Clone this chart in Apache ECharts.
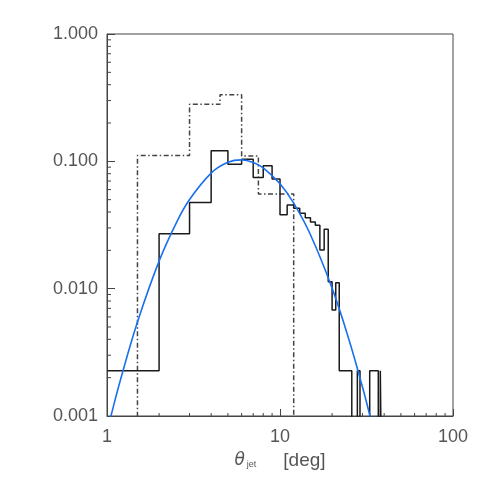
<!DOCTYPE html>
<html>
<head>
<meta charset="utf-8">
<script src="https://cdn.jsdelivr.net/npm/echarts@6/dist/echarts.min.js"></script>
<style>
  html, body { margin: 0; padding: 0; background: #fff; }
  #chart { width: 485px; height: 485px; }
</style>
</head>
<body>
<div id="chart"></div>
<script>
// solid histogram: 1 deg bins, left edges 1..39
const solidEdges = [1, 2, 3, 4, 5, 6, 7, 8, 9, 10, 11, 12, 13, 14, 15, 16, 17, 18, 19, 20,
  21, 22, 23, 24, 25, 26, 27, 28, 29, 30, 31, 32, 33, 34, 35, 36, 37, 38, 39, 40]
const solidValues = [0.00227, 0.027, 0.0475, 0.121, 0.095, 0.104, 0.0745, 0.0925, 0.0728, 0.038,
  0.0455, 0.0428, 0.0391, 0.0361, 0.0334, 0.0315, 0.0201, 0.0293, 0.01135, 0.0068,
  0.01115, 0.00227, 0.00227, 0.00227, 0.00227, 0, 0, 0.00227, 0, 0,
  0, 0, 0.00227, 0.00227, 0.00227, 0.00227, 0, 0.00227, 0]

// dash-dot histogram: 1.5 deg bins
const dashEdges = [1.5, 3, 4.5, 6, 7.5, 9, 10.5, 12]
const dashValues = [0.111, 0.281, 0.334, 0.110, 0.0555, 0.0555, 0.0555]

// blue fitted curve
const fitTheta = [1.0, 1.05, 1.2, 1.5, 2, 2.5, 3, 4, 5, 6, 7, 8, 10, 12, 15, 20, 25, 30, 33, 35]
const fitValues = [0.00075, 0.00098, 0.00195, 0.00547, 0.01645, 0.0323, 0.0501, 0.0809, 0.0982, 0.1026,
  0.0981, 0.0889, 0.0666, 0.0469, 0.0265, 0.0101, 0.00401, 0.00168, 0.00102, 0.00074]

const xTicksMinor = [2, 3, 4, 5, 6, 7, 8, 9, 20, 30, 40, 50, 60, 70, 80, 90]
const yTicksMinor = [0.002, 0.003, 0.004, 0.005, 0.006, 0.007, 0.008, 0.009,
  0.02, 0.03, 0.04, 0.05, 0.06, 0.07, 0.08, 0.09,
  0.2, 0.3, 0.4, 0.5, 0.6, 0.7, 0.8, 0.9]

const X_MIN = 1, X_MAX = 100, Y_MIN = 0.001, Y_MAX = 1
const FLOOR = 0.0001   // empty bins drop below the axis and are clipped

const stepData = (edges, values, startAtFloor) => {
  const pts = []
  if (startAtFloor) pts.push([edges[0], FLOOR])
  values.forEach((v, i) => pts.push([edges[i], v > 0 ? v : FLOOR]))
  pts.push([edges[edges.length - 1], FLOOR])
  return pts
}

const axisColor = '#444'
const labelStyle = { color: '#555', fontSize: 18, fontFamily: 'Liberation Sans' }

const chart = echarts.init(document.getElementById('chart'))

const option = {
  animation: false,
  grid: {
    left: 107, right: 32, top: 34, bottom: 69,
    show: true, borderColor: axisColor, borderWidth: 1
  },
  xAxis: {
    type: 'log',
    logBase: 10,
    min: X_MIN,
    max: X_MAX,
    axisLine: { show: true, lineStyle: { color: axisColor } },
    axisTick: { show: true, inside: true, length: 7, lineStyle: { color: axisColor } },
    splitLine: { show: false },
    axisLabel: {
      ...labelStyle,
      margin: 12,
      formatter: v => String(Math.round(v))
    },
    name: '{t|θ}{s|jet}{d|[deg]}',
    nameLocation: 'middle',
    nameGap: 32,
    nameTextStyle: {
      rich: {
        t: { fontSize: 17, fontStyle: 'italic', color: '#555', fontFamily: 'DejaVu Sans', padding: [0, 0, 0, 0] },
        s: { fontSize: 9, color: '#555', fontFamily: 'Liberation Sans', padding: [9, 0, 0, 2] },
        d: { fontSize: 19, color: '#555', fontFamily: 'Liberation Sans', padding: [0, 0, 0, 27] }
      }
    }
  },
  yAxis: {
    type: 'log',
    logBase: 10,
    min: Y_MIN,
    max: Y_MAX,
    axisLine: { show: true, lineStyle: { color: axisColor } },
    axisTick: { show: true, inside: true, length: 8, lineStyle: { color: axisColor } },
    splitLine: { show: false },
    axisLabel: {
      ...labelStyle,
      margin: 9,
      formatter: v => v.toFixed(3)
    }
  },
  series: [
    {
      name: 'x minor ticks',
      type: 'custom',
      silent: true,
      data: xTicksMinor.map(v => [v, Y_MIN]),
      renderItem: (params, api) => {
        const p = api.coord([api.value(0), api.value(1)])
        return {
          type: 'line',
          shape: { x1: p[0], y1: p[1], x2: p[0], y2: p[1] - 3 },
          style: { stroke: axisColor, lineWidth: 1 }
        }
      }
    },
    {
      name: 'y minor ticks',
      type: 'custom',
      silent: true,
      data: yTicksMinor.map(v => [X_MIN, v]),
      renderItem: (params, api) => {
        const p = api.coord([api.value(0), api.value(1)])
        return {
          type: 'line',
          shape: { x1: p[0], y1: p[1], x2: p[0] + 4, y2: p[1] },
          style: { stroke: axisColor, lineWidth: 1 }
        }
      }
    },
    {
      name: 'dash-dot',
      type: 'line',
      step: 'end',
      symbol: 'none',
      clip: true,
      data: stepData(dashEdges, dashValues, true),
      lineStyle: { color: '#444', width: 1.5, type: [5, 2.5, 1.5, 2.5] }
    },
    {
      name: 'solid',
      type: 'line',
      step: 'end',
      symbol: 'none',
      clip: true,
      data: stepData(solidEdges, solidValues, false),
      lineStyle: { color: '#1a1a1a', width: 1.5 }
    },
    {
      name: 'fit',
      type: 'line',
      smooth: 0.4,
      symbol: 'none',
      clip: true,
      data: fitTheta.map((t, i) => [t, fitValues[i]]),
      lineStyle: { color: '#1a6ff0', width: 1.6 }
    }
  ]
}

chart.setOption(option)
</script>
</body>
</html>
